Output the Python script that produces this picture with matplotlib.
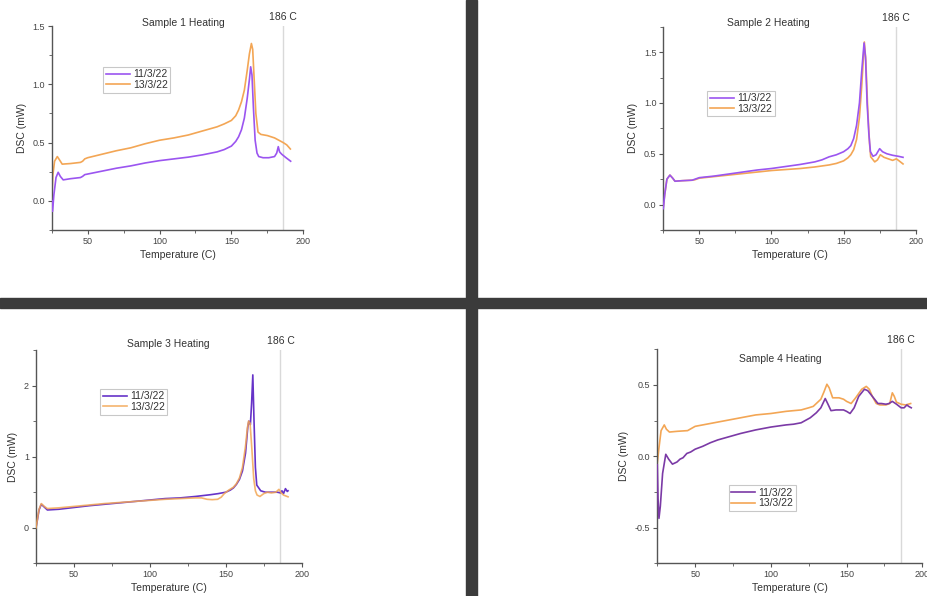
import numpy as np
import matplotlib
matplotlib.use("Agg")
import matplotlib.pyplot as plt
from matplotlib.ticker import MultipleLocator
from matplotlib.patches import Rectangle

plt.rcParams['font.family'] = ['Liberation Sans', 'DejaVu Sans']

W, H = 927, 596
labels = ["11/3/22", "13/3/22"]
titles = ["Sample 1 Heating", "Sample 2 Heating", "Sample 3 Heating", "Sample 4 Heating"]
mark_T = 186

# sample 1
t1_a = [25, 25.6, 26.5, 28, 29.5, 31, 33, 38, 45, 46.5, 48, 50, 60, 70, 80, 90, 100, 110, 120, 130,
        140, 145, 150, 153, 155, 157, 159, 161, 162.5, 163.4, 164.3, 165.3, 166.5, 167.8, 169, 172,
        176, 180, 181.5, 182.6, 183.5, 185, 188, 191.2]
d1_a = [0.0, -0.09, 0.05, 0.20, 0.245, 0.21, 0.18, 0.19, 0.20, 0.21, 0.225, 0.23, 0.255, 0.28, 0.30,
        0.325, 0.345, 0.36, 0.375, 0.395, 0.42, 0.44, 0.47, 0.51, 0.55, 0.61, 0.71, 0.88, 1.04, 1.15,
        1.08, 0.80, 0.52, 0.41, 0.38, 0.37, 0.37, 0.38, 0.41, 0.465, 0.42, 0.40, 0.37, 0.34]
t1_b = [25, 25.8, 27, 28.9, 30.5, 32.3, 38, 45, 46.5, 48, 50, 60, 70, 80, 90, 100, 110, 120, 130, 140,
        145, 150, 153, 155, 157, 159, 161, 162.5, 163.9, 164.8, 165.8, 167, 168.5, 170.5, 175, 180,
        183, 186, 188.5, 191]
d1_b = [0.0, 0.22, 0.34, 0.38, 0.35, 0.315, 0.32, 0.33, 0.34, 0.36, 0.37, 0.40, 0.43, 0.455, 0.49,
        0.52, 0.54, 0.565, 0.60, 0.635, 0.66, 0.69, 0.73, 0.78, 0.85, 0.95, 1.12, 1.26, 1.35, 1.30,
        1.05, 0.75, 0.59, 0.57, 0.56, 0.54, 0.52, 0.50, 0.48, 0.445]

# sample 2
t2_a = [25, 26, 27.5, 29.6, 31.5, 33.1, 38, 45, 47, 50, 60, 70, 80, 90, 100, 110, 120, 130, 135, 140,
        145, 150, 153, 155, 157, 159, 161, 162.5, 164.2, 165.2, 166.3, 167.5, 168.6, 170.4, 172.5,
        175, 177, 180, 184, 188, 191.2]
d2_a = [-0.04, 0.10, 0.25, 0.29, 0.26, 0.23, 0.235, 0.24, 0.25, 0.265, 0.28, 0.30, 0.32, 0.34, 0.355,
        0.375, 0.395, 0.42, 0.44, 0.47, 0.49, 0.52, 0.55, 0.58, 0.65, 0.78, 1.0, 1.30, 1.59, 1.45,
        1.0, 0.70, 0.52, 0.475, 0.49, 0.55, 0.52, 0.50, 0.485, 0.475, 0.465]
t2_b = [25, 26, 27.5, 29.6, 31.5, 33.1, 38, 45, 47, 50, 60, 70, 80, 90, 100, 110, 120, 130, 135, 140,
        145, 150, 153, 155, 157, 159, 161, 162.5, 164.4, 165.4, 166.7, 168, 168.8, 171.6, 173.5,
        175.5, 178, 181, 184, 186.6, 188.5, 191.2]
d2_b = [-0.02, 0.10, 0.25, 0.29, 0.26, 0.23, 0.235, 0.24, 0.245, 0.26, 0.275, 0.29, 0.305, 0.32,
        0.335, 0.345, 0.355, 0.37, 0.38, 0.39, 0.405, 0.43, 0.46, 0.49, 0.54, 0.64, 0.86, 1.15, 1.60,
        1.42, 0.95, 0.60, 0.47, 0.42, 0.44, 0.49, 0.465, 0.45, 0.435, 0.45, 0.43, 0.40]

# sample 3
t3_a = [25, 26, 27, 28.5, 30.5, 32.5, 40, 50, 60, 70, 80, 90, 100, 110, 120, 130, 140, 145, 150, 153,
        155, 157, 159, 161, 163, 164.5, 165.2, 166.2, 167, 167.8, 168.6, 169.5, 170.4, 173, 176, 180,
        184, 186, 187, 188, 189.3, 190.5, 191]
d3_a = [0.0, 0.12, 0.25, 0.33, 0.29, 0.25, 0.26, 0.285, 0.31, 0.33, 0.35, 0.37, 0.39, 0.41, 0.42,
        0.44, 0.465, 0.48, 0.50, 0.53, 0.56, 0.61, 0.68, 0.80, 1.05, 1.42, 1.50, 1.45, 1.75, 2.15,
        1.50, 0.85, 0.60, 0.52, 0.50, 0.50, 0.50, 0.49, 0.52, 0.48, 0.55, 0.51, 0.52]
t3_b = [25, 26, 27, 28.5, 30.5, 32.5, 40, 50, 60, 70, 80, 90, 100, 110, 120, 130, 134, 137.7, 141,
        144.6, 147, 149, 152, 155, 157, 159, 161, 163, 164.2, 165, 166, 167.2, 168.4, 169.5, 170.6,
        172.5, 175, 177.5, 180, 183, 185, 186.5, 188, 191]
d3_b = [0.0, 0.13, 0.26, 0.34, 0.30, 0.27, 0.28, 0.30, 0.32, 0.34, 0.355, 0.37, 0.385, 0.40, 0.41,
        0.42, 0.42, 0.40, 0.395, 0.40, 0.43, 0.48, 0.53, 0.57, 0.62, 0.70, 0.85, 1.15, 1.40, 1.50,
        1.47, 1.10, 0.69, 0.52, 0.46, 0.44, 0.48, 0.50, 0.49, 0.50, 0.54, 0.49, 0.46, 0.435]

# sample 4
t4_a = [25, 25.5, 26.1, 27, 28.5, 30.6, 32.5, 35, 38, 40, 42, 44.5, 47, 50, 55, 60, 65, 70, 75, 80,
        90, 100, 110, 115, 120, 126, 130, 133, 135.9, 137.5, 139.7, 143, 148, 150, 152.3, 155, 158,
        161.8, 164, 167, 170.7, 173, 176, 178, 180.2, 183, 186, 188, 189.8, 191, 192.7]
d4_a = [-0.06, -0.30, -0.435, -0.35, -0.12, 0.014, -0.02, -0.055, -0.04, -0.02, -0.01, 0.02, 0.03,
        0.05, 0.07, 0.095, 0.115, 0.13, 0.145, 0.16, 0.185, 0.205, 0.22, 0.225, 0.235, 0.27, 0.305,
        0.34, 0.405, 0.37, 0.32, 0.325, 0.325, 0.315, 0.30, 0.34, 0.42, 0.47, 0.46, 0.42, 0.37, 0.37,
        0.365, 0.37, 0.385, 0.365, 0.34, 0.34, 0.36, 0.35, 0.34]
t4_b = [25, 26, 27.5, 29.6, 31, 33, 38, 45, 50, 60, 70, 80, 90, 100, 110, 120, 125, 128, 130, 133,
        135, 137, 138.5, 140.8, 145, 148, 150, 153, 156, 160, 163, 165, 167, 169.6, 172, 174, 176,
        178.5, 180.2, 181.5, 182.9, 186, 189, 192.3]
d4_b = [-0.05, 0.05, 0.18, 0.22, 0.19, 0.17, 0.175, 0.18, 0.21, 0.23, 0.25, 0.27, 0.29, 0.30, 0.315,
        0.325, 0.34, 0.35, 0.37, 0.40, 0.45, 0.505, 0.48, 0.41, 0.41, 0.40, 0.385, 0.37, 0.41, 0.47,
        0.49, 0.47, 0.42, 0.37, 0.36, 0.36, 0.36, 0.37, 0.445, 0.42, 0.38, 0.365, 0.36, 0.37]

orange = "#f3a655"
purples = ["#9b55f0", "#9b55f0", "#6633c8", "#7b3aa6"]

# panel boxes in pixels: left, right, top, bottom
boxes = [(51.7, 303.3, 26, 230), (663.3, 915.7, 26.7, 230),
         (36, 301.7, 350, 563.3), (657.3, 922.3, 349.3, 563.3)]
ylims = [(-0.25, 1.5), (-0.25, 1.75), (-0.5, 2.5), (-0.75, 0.75)]
ymaj = [0.5, 0.5, 1, 0.5]
title_xy = [(183, 23), (768, 23), (168, 344), (780, 359)]
legend_xy = [(0.205, 0.80), (0.175, 0.685), (0.242, 0.818), (0.27, 0.365)]
series = [(t1_a, d1_a, t1_b, d1_b), (t2_a, d2_a, t2_b, d2_b),
          (t3_a, d3_a, t3_b, d3_b), (t4_a, d4_a, t4_b, d4_b)]

fig = plt.figure(figsize=(W / 100, H / 100), dpi=100)

for i in range(4):
    l, r, t, b = boxes[i]
    ax = fig.add_axes([l / W, 1 - b / H, (r - l) / W, (b - t) / H])
    ta, da, tb, db = series[i]
    ax.plot(ta, da, color=purples[i], lw=1.2, label=labels[0], zorder=3)
    ax.plot(tb, db, color=orange, lw=1.2, label=labels[1], zorder=2)
    if i == 2:
        ax.lines[0].set_zorder(2)
        ax.lines[1].set_zorder(3)
        ax.lines[1].set_alpha(0.85)
    ax.axvline(mark_T, color="#d9d9d9", lw=1.0, zorder=1)
    ax.set_xlim(25, 200)
    ax.set_ylim(*ylims[i])
    ax.xaxis.set_major_locator(MultipleLocator(50))
    ax.xaxis.set_minor_locator(MultipleLocator(25))
    ax.yaxis.set_major_locator(MultipleLocator(ymaj[i]))
    ax.yaxis.set_minor_locator(MultipleLocator(ymaj[i] / 2))
    if ymaj[i] < 1:
        ax.yaxis.set_major_formatter(lambda v, p: f"{v:.1f}")
    else:
        ax.yaxis.set_major_formatter(lambda v, p: f"{v:.0f}")
    for s in ["top", "right"]:
        ax.spines[s].set_visible(False)
    for s in ["left", "bottom"]:
        ax.spines[s].set_color("#555555")
        ax.spines[s].set_linewidth(1.0)
    ax.tick_params(which="major", direction="out", length=3, width=0.8, colors="#555555",
                   labelsize=6.5, labelcolor="#444444", pad=2)
    ax.tick_params(which="minor", direction="out", length=2, width=0.6, colors="#555555")
    ax.set_xlabel("Temperature (C)", fontsize=7.5, color="#333333", labelpad=3)
    ax.set_ylabel("DSC (mW)", fontsize=7.5, color="#333333", labelpad=4)
    leg = ax.legend(loc="upper left", bbox_to_anchor=legend_xy[i], fontsize=7.5, frameon=True,
                    fancybox=False, handlelength=2.3, handletextpad=0.3, borderpad=0.25,
                    labelspacing=0.05, borderaxespad=0)
    leg.get_frame().set_edgecolor("#bbbbbb")
    leg.get_frame().set_linewidth(0.8)
    for txt in leg.get_texts():
        txt.set_color("#333333")

    tx, ty = title_xy[i]
    fig.text(tx / W, 1 - ty / H, titles[i], fontsize=7.5, color="#333333", ha="center", va="center")
    # label above the reference line
    px = l + (mark_T - 25) / 175 * (r - l)
    fig.text(px / W, 1 - (t - 9) / H, f"{mark_T} C", fontsize=7.5, color="#333333",
             ha="center", va="center")

# dark dividers between the four panels
bar = "#3b3b3b"
fig.patches.append(Rectangle((466.5 / W, 0), 10.5 / W, 1, transform=fig.transFigure,
                             color=bar, zorder=10))
fig.patches.append(Rectangle((0, 1 - 308.3 / H), 1, 10.6 / H, transform=fig.transFigure,
                             color=bar, zorder=10))

fig.savefig("out.png", dpi=100)
